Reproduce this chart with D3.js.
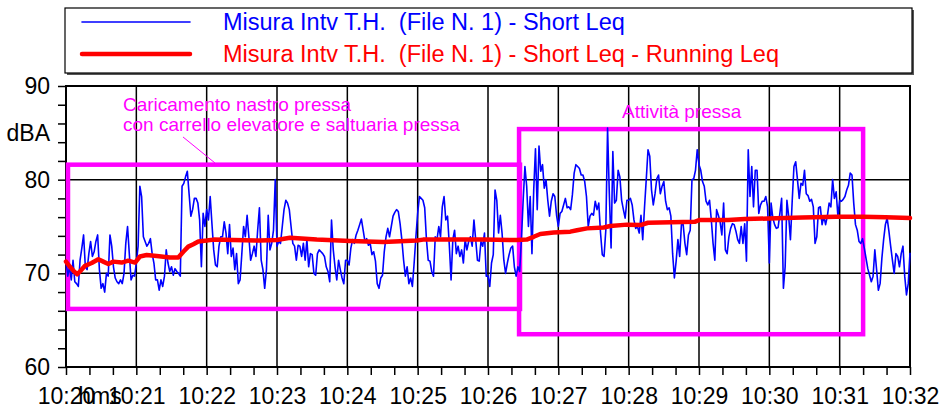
<!DOCTYPE html>
<html>
<head>
<meta charset="utf-8">
<script src="https://cdn.jsdelivr.net/npm/d3@7"></script>
<style>
  body { margin: 0; background: #fff; }
  text { font-family: "Liberation Sans", Arial, sans-serif; }
</style>
</head>
<body>
<svg id="chart" width="941" height="410"></svg>
<script>
// short Leq, one value every 1.5 s starting 10:20:00
const startTime = new Date(2000, 0, 1, 10, 20, 0);
const endTime = new Date(2000, 0, 1, 10, 32, 0);
const stepSec = 1.5;
const shortLeq = [
  71.4, 69.7, 70.7, 69.3, 71.4, 69.1, 68.9, 68.6, 71.4, 72.7,
  74.1, 70.7, 70.4, 72.1, 73.4, 71.8, 72.3, 73.4, 74.1, 70.4,
  68.4, 68.9, 68.0, 70.0, 69.7, 74.1, 72.9, 70.7, 69.5, 69.1,
  68.9, 69.3, 68.9, 70.0, 73.2, 75.0, 72.1, 69.3, 69.8, 69.7,
  71.1, 72.9, 79.3, 78.2, 73.9, 73.4, 72.9, 73.2, 73.7, 72.1,
  71.1, 69.3, 69.3, 68.2, 69.3, 68.6, 69.7, 72.5, 71.1, 70.2,
  70.7, 69.8, 70.5, 70.2, 70.0, 69.7, 79.3, 79.6, 80.3, 80.9,
  78.5, 76.1, 76.8, 78.0, 78.0, 77.5, 75.7, 70.7, 76.4, 75.0,
  76.8, 75.7, 78.2, 75.3, 72.5, 70.9, 70.7, 72.9, 73.9, 73.9,
  75.5, 74.3, 72.1, 75.2, 71.8, 72.7, 70.4, 72.1, 68.9, 69.3,
  72.1, 75.0, 73.9, 76.2, 73.9, 71.4, 72.1, 72.9, 71.8, 74.6,
  77.0, 71.4, 70.4, 68.4, 70.4, 76.2, 72.5, 73.2, 74.6, 80.0,
  72.9, 73.4, 73.2, 75.0, 76.8, 77.8, 77.5, 76.8, 75.0, 73.2,
  72.9, 71.4, 73.0, 72.9, 71.8, 73.2, 71.4, 73.6, 70.7, 72.1,
  72.0, 70.0, 69.8, 72.1, 72.5, 72.3, 72.1, 71.8, 70.7, 70.2,
  69.1, 75.7, 72.5, 70.7, 69.3, 71.4, 70.4, 69.5, 68.9, 71.4,
  71.4, 70.9, 72.7, 73.6, 73.2, 74.1, 74.6, 75.2, 75.8, 74.6,
  73.4, 73.7, 73.0, 73.2, 72.0, 72.3, 71.3, 68.9, 68.4, 69.5,
  69.8, 72.3, 73.9, 74.8, 73.9, 75.0, 76.1, 76.5, 76.8, 76.6,
  75.3, 73.6, 71.4, 69.7, 70.7, 68.9, 69.5, 68.6, 71.1, 73.9,
  76.4, 78.2, 78.0, 77.8, 77.0, 73.6, 71.4, 71.3, 70.2, 69.7,
  73.9, 73.6, 75.0, 73.9, 77.1, 78.2, 75.7, 76.1, 73.0, 69.3,
  73.6, 74.6, 72.1, 72.9, 71.8, 72.5, 71.1, 73.6, 72.5, 73.4,
  73.9, 72.9, 75.7, 73.6, 71.4, 71.3, 73.4, 72.9, 74.3, 69.7,
  69.7, 68.6, 71.1, 72.0, 78.9, 77.8, 74.3, 76.2, 74.3, 71.4,
  70.0, 71.1, 72.0, 72.7, 72.9, 70.7, 69.7, 70.7, 70.2, 73.6,
  77.8, 81.4, 79.3, 75.0, 78.2, 72.1, 78.9, 83.3, 76.8, 83.6,
  80.9, 81.6, 79.1, 80.0, 77.8, 76.1, 77.7, 78.5, 78.2, 76.2,
  75.0, 76.4, 76.6, 77.3, 78.0, 77.0, 77.1, 76.8, 78.4, 80.7,
  81.6, 81.4, 81.2, 80.5, 80.5, 79.8, 78.2, 75.0, 76.1, 76.4,
  76.2, 77.7, 76.8, 77.5, 74.3, 72.0, 71.8, 74.6, 85.5, 78.5,
  72.7, 83.0, 77.5, 77.8, 81.0, 80.3, 77.8, 76.8, 75.9, 77.8,
  77.8, 78.0, 77.3, 75.7, 74.8, 75.0, 74.3, 76.2, 73.6, 77.0,
  80.0, 83.2, 82.5, 78.9, 77.3, 78.5, 80.1, 80.5, 78.5, 79.3,
  79.8, 77.7, 76.8, 77.0, 76.1, 72.1, 69.5, 71.3, 73.6, 71.8,
  75.2, 75.2, 73.2, 72.0, 74.1, 74.6, 80.0, 80.1, 81.0, 83.2,
  81.6, 81.0, 79.8, 79.3, 77.7, 77.3, 77.8, 75.7, 73.2, 71.4,
  76.8, 76.2, 75.5, 74.1, 77.5, 72.5, 72.1, 73.9, 74.8, 75.3,
  75.2, 74.5, 73.6, 73.2, 75.0, 73.2, 75.3, 71.3, 83.2, 78.2,
  81.4, 77.1, 81.0, 81.0, 76.4, 77.3, 77.7, 77.7, 78.2, 77.1,
  71.1, 77.5, 75.9, 75.2, 74.8, 74.9, 76.4, 78.0, 68.4, 70.7,
  77.8, 76.1, 73.6, 77.7, 81.4, 81.9, 80.0, 78.0, 79.6, 79.4,
  81.0, 78.5, 78.3, 77.7, 77.9, 77.1, 73.2, 73.9, 77.0, 77.1,
  75.2, 76.1, 75.2, 76.1, 77.5, 77.1, 80.0, 78.0, 78.7, 76.1,
  77.8, 77.7, 77.9, 78.2, 78.9, 79.4, 80.7, 80.5, 77.5, 75.2,
  74.6, 73.4, 73.2, 73.7, 72.7, 71.6, 70.5, 69.8, 69.1, 69.7,
  72.5, 70.4, 68.2, 68.9, 71.6, 73.6, 75.2, 75.9, 74.5, 72.9,
  71.4, 70.0, 72.1, 71.8, 70.7, 72.1, 72.9, 69.7, 67.7, 68.9,
  72.2
];

// running Leq, seconds after 10:20:00
const runSec = [0, 3.4, 6.2, 9.6, 11.9, 16.2, 21.9, 27.6, 31.8, 36.1,
  40.4, 47.5, 53.1, 58.9, 63.1, 68.8, 77.4, 88.7, 95.8, 100.1,
  104.3, 108.6, 112.9, 120, 125.7, 142.7, 165.5, 179.7, 191.1, 213.9,
  242.3, 270.7, 299.2, 304.6, 327.6, 356, 384.5, 393, 399, 404.6,
  416, 430.2, 435.9, 444.5, 458.7, 464.3, 478.6, 490.1, 496.5, 536.3,
  540.6, 564.8, 579, 598.9, 628.1, 656.6, 679.3, 699.3, 720];
const runLeq = [71.25, 70.7, 70.3, 69.9, 70.2, 70.8, 71.1, 71.5, 71.25, 71.0,
  71.25, 71.15, 71.35, 71.15, 71.8, 71.95, 71.85, 71.7, 71.7, 72.3,
  72.85, 73.1, 73.4, 73.5, 73.6, 73.55, 73.5, 73.55, 73.8, 73.6,
  73.45, 73.35, 73.5, 73.6, 73.6, 73.6, 73.55, 73.6, 73.9, 74.2,
  74.35, 74.45, 74.6, 74.8, 74.9, 75.05, 75.2, 75.15, 75.4, 75.5,
  75.7, 75.7, 75.8, 75.85, 75.95, 76.05, 76.05, 76.0, 75.9];

const seriesNames = [
  "Misura Intv T.H.  (File N. 1) - Short Leq",
  "Misura Intv T.H.  (File N. 1) - Short Leq - Running Leq"
];

// marked periods: [from s, to s, low dB, high dB]
const periods = [
  [1.7, 387.3, 66.2, 81.6],
  [386.5, 680, 63.5, 85.4]
];
const periodLabels = [
  ["Caricamento nastro pressa", "con carrello elevatore e saltuaria pressa"],
  ["Attività pressa"]
];

const yTicks = d3.range(60, 91, 2);

const secToDate = (s) => new Date(startTime.getTime() + s * 1000);

const width = 941;
const height = 410;
const plot = { left: 66, right: 910, top: 86, bottom: 367 };
const magenta = "#ff00ff";

const svg = d3.select("#chart").attr("viewBox", [0, 0, width, height]);

const x = d3.scaleTime().domain([startTime, endTime]).range([plot.left, plot.right]);
const y = d3.scaleLinear().domain([60, 90]).range([plot.bottom, plot.top]);

// grid
const grid = svg.append("g").attr("stroke", "#000").attr("stroke-width", 1.5);
grid.selectAll("line.v")
  .data(x.ticks(d3.timeMinute.every(1)))
  .join("line")
  .attr("class", "v")
  .attr("x1", (d) => x(d)).attr("x2", (d) => x(d))
  .attr("y1", plot.top).attr("y2", plot.bottom);
grid.selectAll("line.h")
  .data([70, 80])
  .join("line")
  .attr("class", "h")
  .attr("x1", plot.left).attr("x2", plot.right)
  .attr("y1", (d) => y(d)).attr("y2", (d) => y(d));

// x axis
const fmt = d3.timeFormat("%H:%M");
const xAxis = svg.append("g")
  .attr("transform", `translate(0,${plot.bottom})`)
  .call(d3.axisBottom(x)
    .ticks(d3.timeSecond.every(20))
    .tickSize(8)
    .tickPadding(13)
    .tickFormat((d) => (d.getSeconds() === 0 ? fmt(d) : "")));
xAxis.select(".domain").remove();
xAxis.selectAll("line").attr("stroke", "#000").attr("stroke-width", 1.5);
xAxis.selectAll("text").attr("fill", "#000").style("font-size", "23px")
  .style("font-family", '"Liberation Sans", Arial, sans-serif');

// y axis
const yAxis = svg.append("g")
  .attr("transform", `translate(${plot.left},0)`)
  .call(d3.axisLeft(y)
    .tickValues(yTicks)
    .tickSize(8)
    .tickPadding(8)
    .tickFormat((d) => (d % 10 === 0 ? d : "")));
yAxis.select(".domain").remove();
yAxis.selectAll("line").attr("stroke", "#000").attr("stroke-width", 1.5);
yAxis.selectAll("text").attr("fill", "#000").style("font-size", "23px")
  .style("font-family", '"Liberation Sans", Arial, sans-serif');

svg.append("text").attr("x", 50).attr("y", 141).attr("text-anchor", "end")
  .style("font-size", "23px").text("dBA");
svg.append("text").attr("x", 100).attr("y", 404).attr("text-anchor", "middle")
  .style("font-size", "23px").text("hms");

// frame
svg.append("rect")
  .attr("x", plot.left).attr("y", plot.top)
  .attr("width", plot.right - plot.left).attr("height", plot.bottom - plot.top)
  .attr("fill", "none").attr("stroke", "#000").attr("stroke-width", 2);

// marked periods
svg.append("g").selectAll("rect")
  .data(periods)
  .join("rect")
  .attr("x", (d) => x(secToDate(d[0])))
  .attr("y", (d) => y(d[3]))
  .attr("width", (d) => x(secToDate(d[1])) - x(secToDate(d[0])))
  .attr("height", (d) => y(d[2]) - y(d[3]))
  .attr("fill", "none").attr("stroke", magenta).attr("stroke-width", 4.5);

svg.append("line")
  .attr("x1", x(secToDate(99.8))).attr("y1", y(84.56))
  .attr("x2", x(secToDate(127.1))).attr("y2", y(81.78))
  .attr("stroke", magenta).attr("stroke-width", 1);

const lab1 = svg.append("text").attr("fill", magenta).style("font-size", "19px");
periodLabels[0].forEach((s, i) => {
  lab1.append("tspan").attr("x", x(secToDate(48.6))).attr("y", y(87.35 - i * 2.15)).text(s);
});
svg.append("text").attr("fill", magenta).style("font-size", "19px")
  .attr("x", x(secToDate(474.3))).attr("y", y(86.6)).text(periodLabels[1][0]);

// series
const blueLine = d3.line()
  .x((d, i) => x(secToDate(i * stepSec)))
  .y((d) => y(d));
svg.append("path")
  .datum(shortLeq)
  .attr("d", blueLine)
  .attr("fill", "none").attr("stroke", "#0000ff").attr("stroke-width", 1.6)
  .attr("stroke-linejoin", "round");

const redLine = d3.line()
  .x((d, i) => x(secToDate(runSec[i])))
  .y((d) => y(d));
svg.append("path")
  .datum(runLeq)
  .attr("d", redLine)
  .attr("fill", "none").attr("stroke", "#ff0000").attr("stroke-width", 4.5)
  .attr("stroke-linejoin", "round").attr("stroke-linecap", "round");

// legend
const legend = svg.append("g");
legend.append("rect").attr("x", 67).attr("y", 10).attr("width", 847).attr("height", 65)
  .attr("fill", "#555");
legend.append("rect").attr("x", 65).attr("y", 8).attr("width", 847).attr("height", 65)
  .attr("fill", "#fff").attr("stroke", "#000").attr("stroke-width", 1.2);
const legendColors = ["#0000ff", "#ff0000"];
const legendWidths = [1.6, 4.5];
seriesNames.forEach((name, i) => {
  const ly = 22 + i * 32;
  legend.append("line").attr("x1", 82).attr("x2", 190).attr("y1", ly).attr("y2", ly)
    .attr("stroke", legendColors[i]).attr("stroke-width", legendWidths[i])
    .attr("stroke-linecap", "round");
  legend.append("text").attr("x", 223).attr("y", ly + 8)
    .attr("fill", legendColors[i]).style("font-size", "23.5px")
    .style("white-space", "pre").text(name);
});
</script>
</body>
</html>
